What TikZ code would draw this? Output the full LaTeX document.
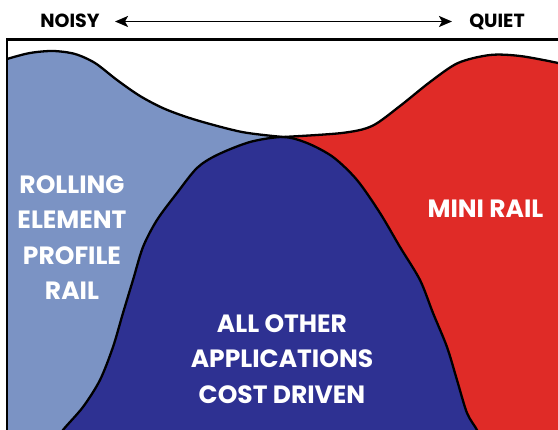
\documentclass[tikz,border=0pt]{standalone}
\usepackage{fontspec}
\setmainfont{Poppins}
\usetikzlibrary{arrows.meta}
\definecolor{lblue}{RGB}{123,147,196}
\definecolor{dblue}{RGB}{46,49,146}
\definecolor{rred}{RGB}{224,43,39}
\begin{document}
\begin{tikzpicture}[x=1pt,y=-1pt,
  lab/.style={text=white,font=\fontsize{25}{35.5}\selectfont\bfseries,align=center,inner sep=0pt},
  toplab/.style={text=black,font=\fontsize{19}{22}\selectfont\bfseries,inner sep=0pt,anchor=base},
  outline/.style={line width=2.3pt,black},
  dblarrow/.style={line width=1.8pt,>={Stealth[length=13pt,width=11pt,inset=3pt]},<->}]
\useasboundingbox (0,0) rectangle (558,430);
\begin{scope}
  \clip (7,40) rectangle (558,430);
  % light blue region
  \fill[lblue] (0,62) -- plot[smooth] coordinates {(0,62) (7,59) (30,53) (53,51) (75,54) (95,63) (117,80) (140,96) (165,109) (196,120) (242,132) (283,137)} -- (283,440) -- (0,440) -- cycle;
  % red region
  \fill[rred] (283,137) -- plot[smooth] coordinates {(283,137) (342,133) (372,126) (400,106) (430,82) (458,63) (490,55) (520,56) (558,63) (570,67)} -- (570,440) -- (283,440) -- cycle;
  % dark blue hump
  \fill[dblue] plot[smooth] coordinates {(58,440) (63,430) (83,407) (100,380) (113,347) (123,313) (133,280) (143,247) (157,220) (177,193) (197,168) (217,155) (250,142) (283,137) (307,143) (333,157) (357,180) (380,213) (400,247) (420,280) (433,313) (447,347) (457,380) (467,413) (477,430) (480,440)} -- cycle;
  % outlines
  \draw[outline] plot[smooth] coordinates {(0,62) (7,59) (30,53) (53,51) (75,54) (95,63) (117,80) (140,96) (165,109) (196,120) (242,132) (283,137)};
  \draw[outline] plot[smooth] coordinates {(283,137) (342,133) (372,126) (400,106) (430,82) (458,63) (490,55) (520,56) (558,63) (570,67)};
  \draw[outline] plot[smooth] coordinates {(58,440) (63,430) (83,407) (100,380) (113,347) (123,313) (133,280) (143,247) (157,220) (177,193) (197,168) (217,155) (250,142) (283,137) (307,143) (333,157) (357,180) (380,213) (400,247) (420,280) (433,313) (447,347) (457,380) (467,413) (477,430) (480,440)};
\end{scope}
% frame
\draw[line width=2.7pt] (7,431) -- (7,39.7) -- (560,39.7);
% labels
\node[lab] (rolling) at (72,237.5) {ROLLING\\ELEMENT\\PROFILE\\RAIL};
\node[lab] (mini) at (485.5,208.5) {MINI RAIL};
\node[lab] (other) at (282,359) {ALL OTHER\\APPLICATIONS\\COST DRIVEN};
\node[toplab] (noisy) at (70,27.5) {NOISY};
\node[toplab] (quiet) at (497,27.5) {QUIET};
\coordinate (al) at (115,21.5);
\coordinate (ar) at (452,21.5);
\draw[dblarrow] (al) -- (ar);
\end{tikzpicture}
\end{document}
